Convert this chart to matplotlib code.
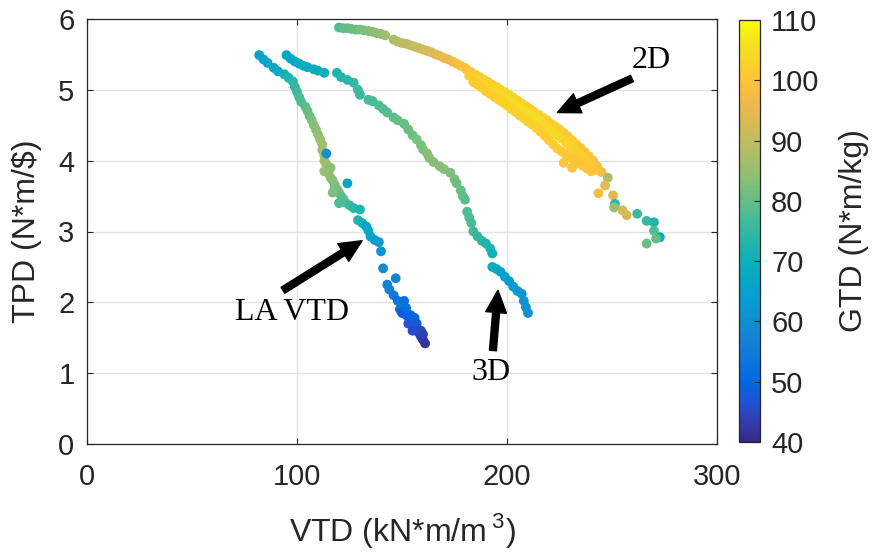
import numpy as np
import matplotlib
matplotlib.use("Agg")
import matplotlib.pyplot as plt
from matplotlib.colors import LinearSegmentedColormap

plt.rcParams['font.family'] = ['Liberation Sans', 'DejaVu Sans']
plt.rcParams['mathtext.fontset'] = 'custom'
plt.rcParams['mathtext.rm'] = 'Liberation Sans'

# LA VTD curve: VTD, TPD, GTD
la_vtd = [82, 84, 86, 89, 91, 94, 96, 98, 99, 100, 101, 102, 104, 105, 106, 107, 108, 109,
          110, 111, 112, 112, 113, 113, 114, 115, 115, 116, 117, 118, 119, 120, 121, 122,
          123, 125, 127, 130, 129, 131, 133, 134, 135, 137, 139, 140, 141, 147, 143, 144,
          146, 148, 150, 149, 151, 152, 153, 154, 155, 156, 157, 158, 159, 160, 161,
          114, 116, 118, 113, 117, 120, 124,
          150, 152, 154, 153, 156, 157, 155, 159, 160, 149, 151]
la_tpd = [5.49, 5.43, 5.38, 5.31, 5.26, 5.22, 5.17, 5.12, 5.04, 4.97, 4.90, 4.83, 4.76, 4.70,
          4.63, 4.57, 4.50, 4.44, 4.37, 4.30, 4.23, 4.15, 4.08, 4.00, 3.95, 3.88, 3.82, 3.76,
          3.72, 3.66, 3.60, 3.55, 3.50, 3.46, 3.41, 3.37, 3.33, 3.31, 3.16, 3.12, 3.07, 3.01,
          2.93, 2.88, 2.85, 2.72, 2.48, 2.34, 2.25, 2.18, 2.10, 2.02, 1.96, 1.90, 1.88, 1.82,
          1.80, 1.75, 1.70, 1.68, 1.62, 1.57, 1.52, 1.47, 1.42,
          4.10, 3.90, 3.62, 3.85, 3.55, 3.40, 3.68,
          1.85, 1.92, 1.82, 1.70, 1.78, 1.70, 1.60, 1.60, 1.55, 2.00, 2.02]
la_gtd = [65, 66, 66, 67, 68, 70, 72, 74, 75, 76, 77, 78, 79, 80, 81, 82, 83, 84, 85, 85, 86,
          86, 86, 86, 86, 85, 85, 84, 84, 83, 82, 81, 80, 79, 78, 76, 74, 72, 73, 71, 65, 68,
          66, 64, 63, 61, 60, 58, 58, 57, 55, 52, 50, 53, 49, 51, 47, 48, 46, 49, 45, 46, 44,
          43, 42,
          60, 84, 82, 85, 82, 78, 66,
          48, 52, 50, 47, 50, 48, 46, 45, 44, 55, 52]

# 3D curve
d3_vtd = [95, 97, 99, 101, 103, 105, 108, 110, 113, 119, 121, 124, 127, 129, 130, 134, 136,
          139, 141, 143, 146, 148, 151, 153, 155, 157, 159, 160, 162, 163, 165, 168, 170, 173,
          175, 176, 178, 179, 180, 181, 182, 183, 184, 186, 188, 190, 192, 193, 193, 195, 197,
          199, 201, 203, 205, 207, 208, 209, 210]
d3_tpd = [5.49, 5.44, 5.40, 5.37, 5.34, 5.32, 5.29, 5.27, 5.24, 5.24, 5.18, 5.14, 5.10, 5.00,
          4.93, 4.86, 4.84, 4.78, 4.73, 4.68, 4.61, 4.57, 4.52, 4.44, 4.36, 4.30, 4.22, 4.16,
          4.10, 4.04, 3.98, 3.92, 3.88, 3.83, 3.74, 3.68, 3.58, 3.50, 3.45, 3.28, 3.20, 3.12,
          3.00, 2.93, 2.87, 2.83, 2.76, 2.69, 2.50, 2.47, 2.43, 2.36, 2.30, 2.22, 2.16, 2.12,
          2.02, 1.93, 1.85]
d3_gtd = [66, 67, 67, 68, 68, 68, 69, 69, 70, 72, 73, 74, 75, 76, 76, 77, 77, 78, 78, 79, 79,
          80, 80, 81, 81, 82, 82, 82, 83, 83, 83, 83, 83, 82, 82, 81, 80, 80, 79, 78, 78, 77,
          76, 75, 74, 73, 72, 71, 70, 68, 66, 65, 64, 63, 63, 62, 62, 61, 61]

# 2D curve, head part
d2_head_vtd = [120, 122, 124, 126, 128, 130, 132, 134, 136, 138, 140, 142, 146, 148, 150, 152,
               154, 156, 158, 160, 162, 164, 166, 168, 170, 172, 174, 176, 178, 180]
d2_head_tpd = [5.88, 5.87, 5.87, 5.86, 5.85, 5.85, 5.84, 5.83, 5.82, 5.80, 5.79, 5.77, 5.71,
               5.68, 5.66, 5.65, 5.63, 5.61, 5.59, 5.57, 5.55, 5.53, 5.50, 5.48, 5.45, 5.43,
               5.40, 5.37, 5.34, 5.31]
d2_head_gtd = [78, 79, 80, 80, 81, 82, 82, 83, 84, 84, 85, 86, 87, 88, 89, 89, 90, 91, 91, 92,
               93, 93, 94, 95, 96, 96, 97, 98, 98, 99]

# 2D curve, thick band (upper, middle and lower edge)
d2_up_vtd = [181, 183, 185, 187, 189, 191, 193, 195, 197, 199, 201, 203, 205, 207, 209, 211,
             213, 215, 217, 219, 221, 223, 225, 227, 229, 231, 233, 235, 237, 239, 241, 243, 245]
d2_up_tpd = [5.28, 5.25, 5.21, 5.18, 5.14, 5.11, 5.07, 5.04, 5.00, 4.97, 4.93, 4.89, 4.85,
             4.81, 4.77, 4.73, 4.69, 4.65, 4.61, 4.57, 4.52, 4.48, 4.44, 4.39, 4.34, 4.29,
             4.23, 4.18, 4.12, 4.06, 4.00, 3.92, 3.84]
d2_up_gtd = [100, 100, 101, 101, 102, 102, 102, 103, 103, 103, 103, 103, 103, 103, 103, 103,
             103, 103, 103, 102, 102, 102, 102, 102, 101, 101, 101, 100, 100, 100, 99, 99, 98]
d2_mid_vtd = [182, 184, 186, 188, 190, 192, 194, 196, 198, 200, 202, 204, 206, 208, 210, 212,
              214, 216, 218, 220, 222, 224, 226, 228, 230, 232, 234, 236, 238, 240, 242]
d2_mid_tpd = [5.20, 5.17, 5.13, 5.10, 5.06, 5.02, 4.98, 4.95, 4.91, 4.87, 4.83, 4.79, 4.75,
              4.71, 4.67, 4.63, 4.59, 4.55, 4.50, 4.46, 4.41, 4.36, 4.31, 4.26, 4.21, 4.16,
              4.10, 4.05, 3.99, 3.93, 3.87]
d2_mid_gtd = [102, 102, 103, 103, 103, 104, 104, 104, 104, 105, 105, 105, 105, 105, 105, 105,
              105, 105, 104, 104, 104, 104, 104, 103, 103, 103, 102, 102, 101, 101, 100]
d2_low_vtd = [184, 186, 188, 190, 192, 194, 196, 198, 200, 202, 204, 206, 208, 210, 212, 214,
              216, 218, 220, 222, 224, 226, 228, 230, 232, 234, 236, 238, 240]
d2_low_tpd = [5.11, 5.07, 5.03, 4.98, 4.94, 4.90, 4.86, 4.82, 4.78, 4.73, 4.69, 4.64, 4.60,
              4.55, 4.51, 4.46, 4.41, 4.35, 4.29, 4.23, 4.17, 4.13, 4.09, 4.05, 4.01, 3.97,
              3.93, 3.89, 3.85]
d2_low_gtd = [101, 101, 102, 102, 102, 102, 103, 103, 103, 103, 103, 103, 103, 103, 103, 103,
              102, 102, 102, 102, 101, 101, 101, 101, 100, 100, 100, 100, 100]

# 2D curve, strays and tail
d2_tail_vtd = [227, 231, 243.5, 248, 246.7, 250.5, 251.4, 251, 255, 257, 262, 266.5, 270, 270,
               272.8, 271, 266.5]
d2_tail_tpd = [3.97, 3.90, 3.54, 3.76, 3.65, 3.51, 3.39, 3.34, 3.30, 3.23, 3.25, 3.15, 3.13,
               3.01, 2.92, 2.90, 2.83]
d2_tail_gtd = [100, 100, 98, 88, 95, 95, 74, 85, 93, 93, 76, 75, 73, 78, 68, 80, 80]

d2_vtd = d2_head_vtd + d2_up_vtd + d2_mid_vtd + d2_low_vtd + d2_tail_vtd
d2_tpd = d2_head_tpd + d2_up_tpd + d2_mid_tpd + d2_low_tpd + d2_tail_tpd
d2_gtd = d2_head_gtd + d2_up_gtd + d2_mid_gtd + d2_low_gtd + d2_tail_gtd

# parula-like colour map
parula = [(0.2081, 0.1663, 0.5292), (0.2081, 0.2386, 0.6771), (0.1253, 0.3242, 0.8303),
          (0.0060, 0.4086, 0.8828), (0.0498, 0.4586, 0.8641), (0.0779, 0.5040, 0.8384),
          (0.0641, 0.5570, 0.8240), (0.0265, 0.6137, 0.8135), (0.0228, 0.6535, 0.7768),
          (0.0590, 0.6838, 0.7254), (0.1453, 0.7098, 0.6646), (0.2586, 0.7317, 0.5954),
          (0.3953, 0.7459, 0.5244), (0.5300, 0.7491, 0.4661), (0.6473, 0.7456, 0.4188),
          (0.7525, 0.7384, 0.3768), (0.8507, 0.7299, 0.3360), (0.9450, 0.7261, 0.2886),
          (0.9990, 0.7653, 0.2164), (0.9789, 0.8271, 0.1633), (0.9589, 0.8949, 0.1132),
          (0.9763, 0.9831, 0.0538)]
cmap = LinearSegmentedColormap.from_list("parula", parula)

fig = plt.figure(figsize=(8.79, 5.57), dpi=100)
ax = fig.add_axes([87 / 879, 113 / 557, 630 / 879, 425 / 557])
cax = fig.add_axes([739 / 879, 115 / 557, 21 / 879, 422 / 557])

dark = '#262626'
for xs, ys, cs in [(la_vtd, la_tpd, la_gtd), (d3_vtd, d3_tpd, d3_gtd), (d2_vtd, d2_tpd, d2_gtd)]:
    sc = ax.scatter(xs, ys, c=cs, cmap=cmap, vmin=40, vmax=110, s=50, linewidths=0, zorder=3)

ax.set_xlim(0, 300)
ax.set_ylim(0, 6)
ax.set_xticks([0, 100, 200, 300])
ax.set_yticks([0, 1, 2, 3, 4, 5, 6])
ax.grid(True, color='#e3e3e3', linewidth=1.0, zorder=0)
ax.set_axisbelow(True)
ax.tick_params(direction='in', length=4, top=True, right=True, labelsize=21,
               colors=dark, width=0.8)
ax.tick_params(axis='x', pad=14)
ax.tick_params(axis='y', pad=9)
for s in ax.spines.values():
    s.set_color(dark)
    s.set_linewidth(0.9)

ax.set_xlabel('VTD (kN*m/m$\\,^{3}$)', fontsize=23, color=dark, labelpad=14)
ax.set_ylabel('TPD (N*m/$)', fontsize=23, color=dark, labelpad=12)

cb = fig.colorbar(sc, cax=cax, ticks=[40, 50, 60, 70, 80, 90, 100, 110])
cb.outline.set_edgecolor(dark)
cb.outline.set_linewidth(0.9)
cax.tick_params(direction='in', length=4, labelsize=21, colors=dark, pad=8, width=0.8)
cb.set_label('GTD (N*m/kg)', fontsize=23, color=dark, labelpad=14)

arrow = dict(facecolor='black', edgecolor='black', width=5, headwidth=15, headlength=16)
ax.annotate('', xy=(224, 4.68), xytext=(259.5, 5.16), arrowprops=arrow)
ax.annotate('', xy=(131, 2.87), xytext=(93.3, 2.17), arrowprops=arrow)
ax.annotate('', xy=(195.7, 2.17), xytext=(193.3, 1.32), arrowprops=arrow)
serif = dict(fontsize=23, family='Liberation Serif', ha='center', va='center')
ax.text(268.6, 5.41, '2D', **serif)
ax.text(97.6, 1.86, 'LA VTD', **serif)
ax.text(192.4, 1.01, '3D', **serif)

fig.savefig('out.png', dpi=100)
